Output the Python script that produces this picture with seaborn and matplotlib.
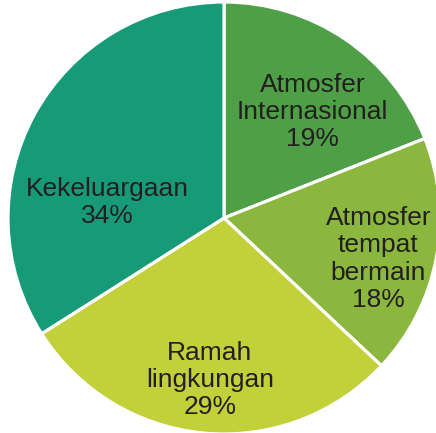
import matplotlib
matplotlib.use("Agg")
import matplotlib.pyplot as plt
import seaborn as sns

sns.set_theme(style="white")
plt.rcParams['font.family'] = ['Liberation Sans', 'DejaVu Sans']

categories = ["Atmosfer\nInternasional", "Atmosfer\ntempat\nbermain", "Ramah\nlingkungan", "Kekeluargaan"]
values = [19, 18, 29, 34]
colors = sns.color_palette(["#4f9f47", "#8bb73e", "#c2d03a", "#179a78"])
label_pos = [(0.41, 0.49), (0.715, -0.19), (-0.065, -0.75), (-0.54, 0.07)]

fig = plt.figure(figsize=(4.36, 4.33), dpi=100)
ax = fig.add_axes([0.01835, -0.0023, 432/436, 432/433])
wedges, _ = ax.pie(values, colors=colors, startangle=90, counterclock=False,
                   wedgeprops=dict(edgecolor="white", linewidth=2.3))
for cat, v, (x, y) in zip(categories, values, label_pos):
    ax.text(x, y, f"{cat}\n{v}%", ha="center", va="center", fontsize=19,
            color="#231f20", linespacing=1.17)
ax.set_xlim(-1, 1)
ax.set_ylim(-1, 1)
ax.set_aspect("equal")
ax.axis("off")
fig.savefig("out.png", dpi=100)
